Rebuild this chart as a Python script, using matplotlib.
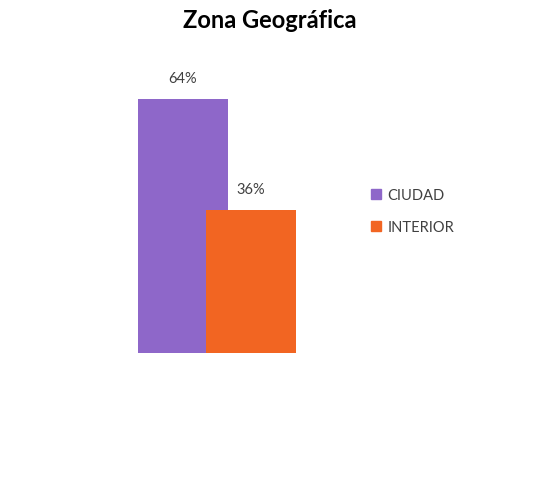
import matplotlib.pyplot as plt
from matplotlib.patches import Patch

categories = ["CIUDAD", "INTERIOR"]
values = [64, 36]
colors = ["#8e67c9", "#f26522"]

plt.rcParams['font.family'] = ['Lato', 'DejaVu Sans']

fig = plt.figure(figsize=(5.4, 4.85), dpi=100)
# axes placed in pixel terms: left 93px, width 270px, bottom at 354px, 80% -> 318px
ax = fig.add_axes([93 / 540, (485 - 354) / 485, 270 / 540, 318 / 485])

offsets = [0, 0.755]
for off, v, c in zip(offsets, values, colors):
    ax.bar(off, v, width=1.0, color=c)
    ax.text(off, v + 3.5, f"{v}%", ha="center", va="bottom",
            fontsize=10.5, color="#404040")

ax.set_xlim(-1, 2)
ax.set_ylim(0, 80)
ax.axis("off")

fig.text(0.5, 0.958, "Zona Geográfica", ha="center", va="center",
         fontsize=17, fontweight="bold", color="black")

handles = [Patch(color=c) for c in colors]
fig.legend(handles, categories, loc="center left",
           bbox_to_anchor=(358 / 540, 1 - 212 / 485), frameon=False,
           fontsize=10.5, labelcolor="#404040", handlelength=0.7,
           handleheight=0.7, handletextpad=0.4, labelspacing=1.2)

fig.savefig("out.png", dpi=100, facecolor="white")
